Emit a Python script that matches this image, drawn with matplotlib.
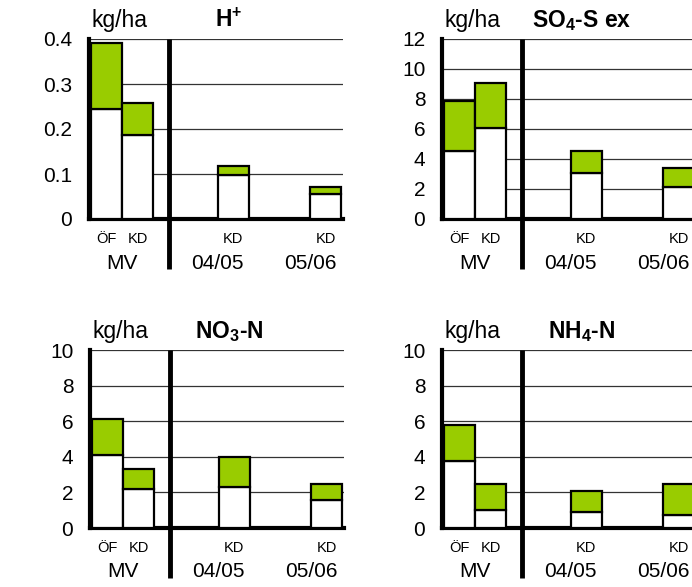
import matplotlib
matplotlib.use("Agg")
import matplotlib.pyplot as plt
import matplotlib.transforms as mtransforms

plt.rcParams['font.family'] = ['Liberation Sans', 'DejaVu Sans']
plt.rcParams['mathtext.fontset'] = 'custom'
plt.rcParams['mathtext.rm'] = 'Liberation Sans'
plt.rcParams['mathtext.bf'] = 'Liberation Sans:bold'

GREEN = '#99cc00'

# bars: MV ÖF, MV KD, 04/05 KD, 05/06 KD
bar_labels = ['ÖF', 'KD', 'KD', 'KD']
group_labels = ['MV', '04/05', '05/06']

# lower (white) part and total height of each stacked bar
h_white = [0.245, 0.187, 0.098, 0.055]
h_total = [0.391, 0.257, 0.117, 0.072]
h_ticks = [0, 0.1, 0.2, 0.3, 0.4]
h_ticklabels = ['0', '0.1', '0.2', '0.3', '0.4']

so4_white = [4.55, 6.05, 3.1, 2.15]
so4_total = [7.9, 9.1, 4.55, 3.4]
so4_ticks = [0, 2, 4, 6, 8, 10, 12]

no3_white = [4.1, 2.2, 2.3, 1.55]
no3_total = [6.1, 3.3, 4.0, 2.45]
no3_ticks = [0, 2, 4, 6, 8, 10]

nh4_white = [3.75, 1.0, 0.88, 0.75]
nh4_total = [5.78, 2.45, 2.1, 2.45]
nh4_ticks = [0, 2, 4, 6, 8, 10]

# layout (in bar widths)
xpos = [0.55, 1.55, 4.6, 7.55]
sep_x = 2.55


def draw_panel(ax, white, total, ticks, ticklabels, title):
    green = [t - w for t, w in zip(total, white)]
    ax.bar(xpos, white, width=1.0, color='white', edgecolor='black', lw=1.6, zorder=3)
    ax.bar(xpos, green, bottom=white, width=1.0, color=GREEN, edgecolor='black', lw=1.6, zorder=3)

    ax.set_xlim(0, 8.1)
    ax.set_ylim(ticks[0], ticks[-1])
    ax.set_yticks(ticks)
    ax.set_yticklabels(ticklabels if ticklabels else [str(t) for t in ticks])
    ax.set_xticks([])
    ax.tick_params(axis='y', length=0, pad=12, labelsize=15)
    ax.yaxis.grid(True, color='#333333', lw=0.9)
    ax.set_axisbelow(True)

    for s in ['top', 'right']:
        ax.spines[s].set_visible(False)
    ax.spines['left'].set_linewidth(3)
    ax.spines['bottom'].set_linewidth(3)

    trans = mtransforms.blended_transform_factory(ax.transData, ax.transAxes)
    ax.plot([sep_x, sep_x], [-0.28, 1.0], transform=trans, color='black',
            lw=3.5, clip_on=False, solid_capstyle='butt', zorder=5)

    for x, lab in zip(xpos, bar_labels):
        ax.text(x, -0.11, lab, transform=trans, ha='center', va='center', fontsize=10.5)
    group_x = [(xpos[0] + xpos[1]) / 2, xpos[2] - 0.5, xpos[3] - 0.5]
    for x, lab in zip(group_x, group_labels):
        ax.text(x, -0.245, lab, transform=trans, ha='center', va='center', fontsize=15)

    ax.text(0.01, 1.105, 'kg/ha', transform=ax.transAxes, ha='left', va='center', fontsize=16.5)
    ax.text(0.55, 1.105, title, transform=ax.transAxes, ha='center', va='center',
            fontsize=16.5, fontweight='bold')


fig = plt.figure(figsize=(6.92, 5.87), dpi=100)
w = 254 / 692
ax1 = fig.add_axes([89 / 692, 1 - 219 / 587, w, 180 / 587])
ax2 = fig.add_axes([442 / 692, 1 - 219 / 587, w, 180 / 587])
ax3 = fig.add_axes([90 / 692, 1 - 528 / 587, w, 178 / 587])
ax4 = fig.add_axes([442 / 692, 1 - 528 / 587, w, 178 / 587])

draw_panel(ax1, h_white, h_total, h_ticks, h_ticklabels, r'$\mathbf{H^{+}}$')
draw_panel(ax2, so4_white, so4_total, so4_ticks, None, r'$\mathbf{SO_4}$-S ex')
draw_panel(ax3, no3_white, no3_total, no3_ticks, None, r'$\mathbf{NO_3}$-N')
draw_panel(ax4, nh4_white, nh4_total, nh4_ticks, None, r'$\mathbf{NH_4}$-N')

fig.savefig('out.png', dpi=100)
